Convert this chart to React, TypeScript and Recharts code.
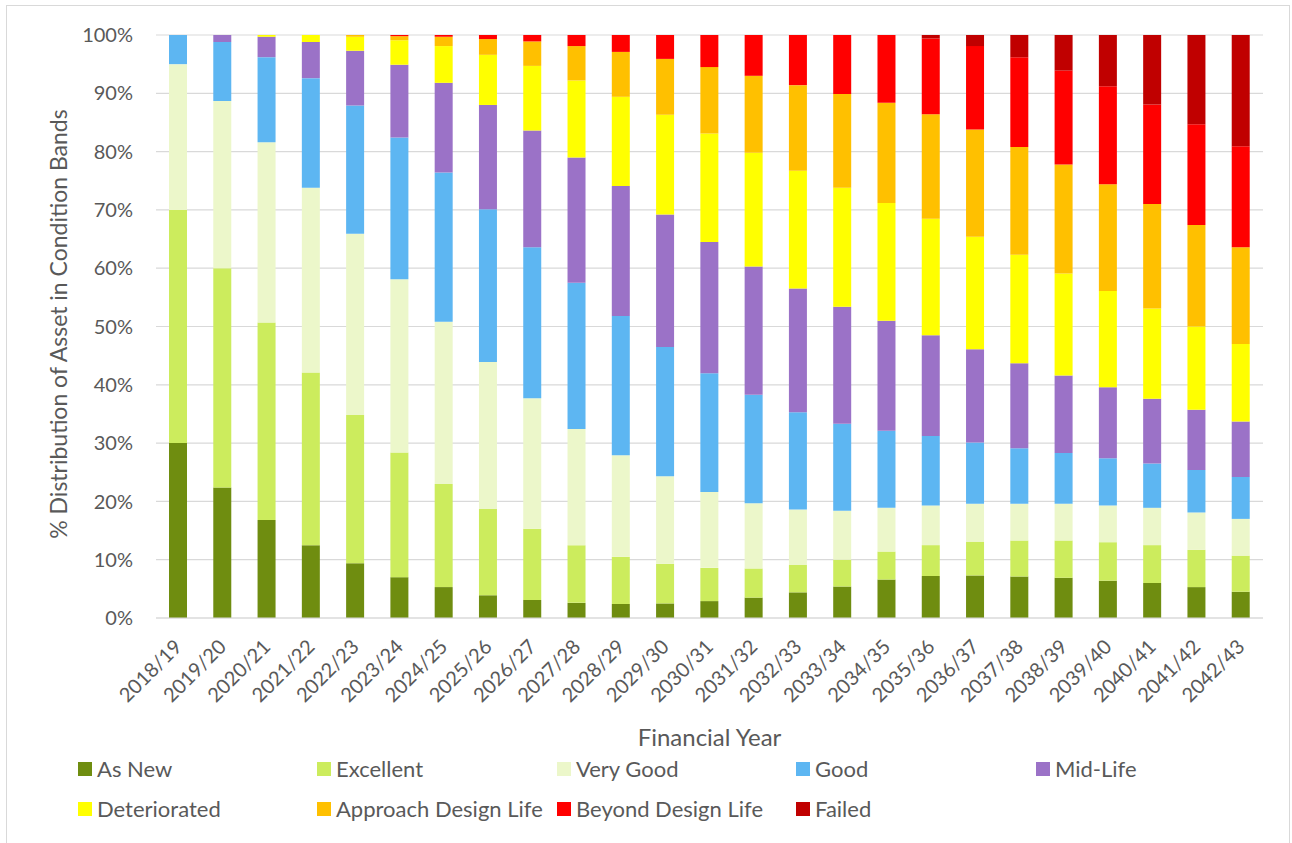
import React from 'react';
import { BarChart, Bar, XAxis, YAxis, CartesianGrid, Label } from 'recharts';

const FONT = "Lato, 'Open Sans', 'Noto Sans', sans-serif";
const TEXT = '#595959';
const GRID = '#D9D9D9';

// Financial years on the x axis
const YEARS = [
  '2018/19', '2019/20', '2020/21', '2021/22', '2022/23', '2023/24', '2024/25',
  '2025/26', '2026/27', '2027/28', '2028/29', '2029/30', '2030/31', '2031/32',
  '2032/33', '2033/34', '2034/35', '2035/36', '2036/37', '2037/38', '2038/39',
  '2039/40', '2040/41', '2041/42', '2042/43',
];

// Share of the asset (%) in each condition band, per year
const AS_NEW = [30, 22.4, 16.8, 12.5, 9.4, 7.0, 5.3, 3.9, 3.1, 2.6, 2.4, 2.5, 2.9, 3.5, 4.4, 5.4, 6.6, 7.2, 7.3, 7.1, 6.9, 6.4, 6.0, 5.3, 4.5];
const EXCELLENT = [40, 37.6, 33.9, 29.6, 25.4, 21.4, 17.7, 14.8, 12.2, 9.9, 8.1, 6.8, 5.7, 5.0, 4.7, 4.6, 4.8, 5.3, 5.8, 6.2, 6.4, 6.6, 6.5, 6.4, 6.2];
const VERY_GOOD = [25, 28.7, 30.9, 31.7, 31.1, 29.7, 27.8, 25.2, 22.4, 19.9, 17.4, 15.0, 13.0, 11.2, 9.5, 8.4, 7.5, 6.8, 6.5, 6.3, 6.3, 6.3, 6.4, 6.4, 6.3];
const GOOD = [5, 10.1, 14.6, 18.8, 22.0, 24.3, 25.6, 26.2, 25.9, 25.1, 23.9, 22.2, 20.4, 18.6, 16.7, 14.9, 13.2, 11.9, 10.5, 9.5, 8.7, 8.1, 7.6, 7.3, 7.2];
const MID_LIFE = [0, 1.2, 3.5, 6.2, 9.4, 12.5, 15.4, 17.9, 20.0, 21.5, 22.3, 22.7, 22.5, 22.0, 21.2, 20.1, 18.9, 17.3, 16.0, 14.6, 13.3, 12.2, 11.1, 10.3, 9.5];
const DETERIORATED = [0, 0, 0.3, 1.2, 2.4, 4.2, 6.3, 8.6, 11.1, 13.2, 15.3, 17.1, 18.6, 19.5, 20.2, 20.4, 20.2, 20.0, 19.3, 18.6, 17.5, 16.5, 15.5, 14.3, 13.3];
const APPROACH = [0, 0, 0, 0, 0.3, 0.7, 1.6, 2.7, 4.2, 5.9, 7.7, 9.6, 11.4, 13.2, 14.7, 16.1, 17.2, 17.9, 18.4, 18.5, 18.7, 18.3, 17.9, 17.4, 16.6];
const BEYOND = [0, 0, 0, 0, 0, 0.2, 0.3, 0.7, 1.1, 1.9, 2.9, 4.1, 5.5, 7.0, 8.6, 10.1, 11.6, 13.0, 14.3, 15.4, 16.1, 16.8, 17.1, 17.3, 17.3];
const FAILED = [0, 0, 0, 0, 0, 0, 0, 0, 0, 0, 0, 0, 0, 0, 0, 0, 0, 0.6, 1.9, 3.8, 6.1, 8.8, 11.9, 15.3, 19.1];

const Y_TICKS = [0, 0.1, 0.2, 0.3, 0.4, 0.5, 0.6, 0.7, 0.8, 0.9, 1];

const SERIES = [
  { key: 'asNew', name: 'As New', color: '#6F8D10', values: AS_NEW },
  { key: 'excellent', name: 'Excellent', color: '#CCEC5D', values: EXCELLENT },
  { key: 'veryGood', name: 'Very Good', color: '#ECF7CA', values: VERY_GOOD },
  { key: 'good', name: 'Good', color: '#5DB6F2', values: GOOD },
  { key: 'midLife', name: 'Mid-Life', color: '#9B72C7', values: MID_LIFE },
  { key: 'deteriorated', name: 'Deteriorated', color: '#FFFF00', values: DETERIORATED },
  { key: 'approach', name: 'Approach Design Life', color: '#FFC000', values: APPROACH },
  { key: 'beyond', name: 'Beyond Design Life', color: '#FF0000', values: BEYOND },
  { key: 'failed', name: 'Failed', color: '#C00000', values: FAILED },
];

const data = YEARS.map((year, i) => {
  const row: Record<string, string | number> = { year };
  SERIES.forEach((s) => {
    row[s.key] = s.values[i];
  });
  return row;
});

const XTick = (props: any) => {
  const { x, y, payload } = props;
  return (
    <text
      transform={`translate(${x + 5},${y + 22}) rotate(-45)`}
      textAnchor="end"
      fill={TEXT}
      fontSize={20}
      fontFamily={FONT}
    >
      {payload.value}
    </text>
  );
};

const YTitle = () => (
  <text
    transform="rotate(-90)"
    x={-324}
    y={67}
    textAnchor="middle"
    fill={TEXT}
    fontSize={23}
    fontFamily={FONT}
  >
    % Distribution of Asset in Condition Bands
  </text>
);

const XTitle = (props: any) => {
  const vb = props.viewBox || { x: 156, y: 618, width: 1107 };
  return (
    <text
      x={vb.x + vb.width / 2}
      y={vb.y + 128}
      textAnchor="middle"
      fill={TEXT}
      fontSize={24}
      fontFamily={FONT}
    >
      Financial Year
    </text>
  );
};

const LEGEND_COLS = [78, 317, 557, 796, 1036];
const LEGEND_ROWS = [762, 802];

const LegendBlock = () => (
  <>
    {SERIES.map((s, i) => {
      const col = i % 5;
      const row = Math.floor(i / 5);
      return (
        <div
          key={s.key}
          style={{
            position: 'absolute',
            left: LEGEND_COLS[col],
            top: LEGEND_ROWS[row],
            height: 14,
            display: 'flex',
            alignItems: 'center',
            whiteSpace: 'nowrap',
          }}
        >
          <span style={{ width: 14, height: 14, background: s.color, display: 'inline-block' }} />
          <span
            style={{
              marginLeft: 5,
              fontFamily: FONT,
              fontSize: 22,
              color: TEXT,
              lineHeight: '14px',
            }}
          >
            {s.name}
          </span>
        </div>
      );
    })}
  </>
);

export default function App() {
  return (
    <div style={{ position: 'absolute', left: 0, top: 0, width: 1292, height: 843, background: '#fff', overflow: 'hidden' }}>
      <div
        style={{
          position: 'absolute',
          left: 6,
          top: 5,
          width: 1284,
          height: 860,
          border: `1px solid ${GRID}`,
          boxSizing: 'border-box',
        }}
      />
      <div style={{ position: 'absolute', left: 0, top: 0 }}>
        <BarChart
          width={1292}
          height={843}
          data={data}
          stackOffset="expand"
          barSize={18}
          margin={{ top: 35, right: 29, left: 0, bottom: 0 }}
        >
          <CartesianGrid vertical={false} stroke={GRID} strokeWidth={1.2} />
          <XAxis
            dataKey="year"
            height={225}
            interval={0}
            tick={<XTick />}
            tickLine={false}
            axisLine={{ stroke: GRID, strokeWidth: 1.2 }}
            tickSize={6}
            tickMargin={2}
          >
            <Label content={<XTitle />} />
          </XAxis>
          <YAxis
            width={156}
            domain={[0, 1]}
            ticks={Y_TICKS}
            tickFormatter={(v: number) => `${Math.round(v * 100)}%`}
            axisLine={false}
            tickLine={false}
            tickSize={6}
            tickMargin={17}
            tick={{ fill: TEXT, fontSize: 20, fontFamily: FONT }}
          >
            <Label content={<YTitle />} />
          </YAxis>
          {SERIES.map((s) => (
            <Bar
              key={s.key}
              dataKey={s.key}
              name={s.name}
              stackId="bands"
              fill={s.color}
              isAnimationActive={false}
            />
          ))}
        </BarChart>
      </div>
      <LegendBlock />
    </div>
  );
}
